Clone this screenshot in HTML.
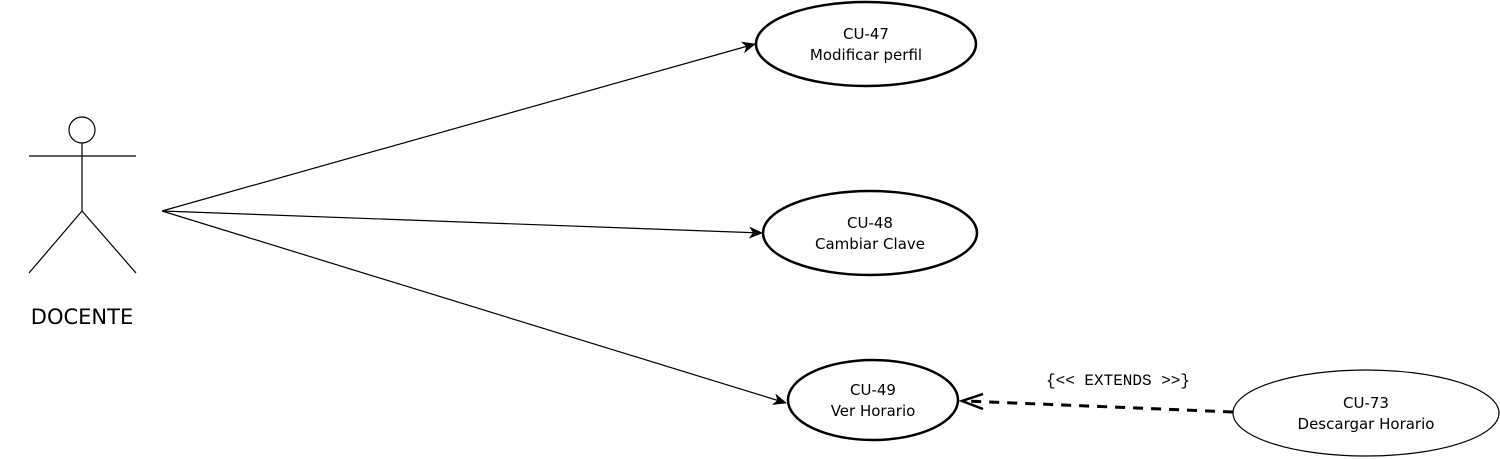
<!DOCTYPE html>
<html><head><style>html,body{margin:0;padding:0;background:#fff;}svg{display:block}</style></head>
<body>
<svg width="1500" height="459" viewBox="0 0 1500 459" xmlns="http://www.w3.org/2000/svg" font-family="'DejaVu Sans','Liberation Sans',sans-serif">
<defs>
<marker id="a" markerWidth="14" markerHeight="12" refX="13" refY="6" orient="auto" markerUnits="userSpaceOnUse">
<path d="M0,0 L14,6 L0,12 L4,6 Z" fill="#000"/>
</marker>
</defs>
<g stroke="#000" stroke-width="1.2" fill="none">
<circle cx="82" cy="130" r="13"/>
<line x1="29" y1="156" x2="136" y2="156"/>
<line x1="82" y1="143" x2="82" y2="211"/>
<line x1="82" y1="211" x2="29" y2="273"/>
<line x1="82" y1="211" x2="136" y2="273"/>
<line x1="162" y1="211" x2="755" y2="44" marker-end="url(#a)"/>
<line x1="162" y1="211" x2="762" y2="233" marker-end="url(#a)"/>
<line x1="162" y1="211" x2="786" y2="403" marker-end="url(#a)"/>
</g>
<text x="82" y="324" font-size="21" text-anchor="middle">DOCENTE</text>
<g stroke="#000" stroke-width="2.5" fill="#fff">
<ellipse cx="866" cy="44" rx="110" ry="42"/>
<ellipse cx="870" cy="233" rx="107" ry="42"/>
<ellipse cx="873" cy="400" rx="85" ry="40"/>
</g>
<ellipse cx="1366" cy="413" rx="133" ry="43" stroke="#000" stroke-width="1.2" fill="#fff"/>
<line x1="1233" y1="412" x2="966" y2="401" stroke="#000" stroke-width="3" stroke-dasharray="10,8"/>
<polyline points="983,394 962,401 983,409" stroke="#000" stroke-width="2.5" fill="none"/>
<text x="1118" y="385" font-size="16" text-anchor="middle" font-family="'Liberation Mono',monospace">{&lt;&lt; EXTENDS &gt;&gt;}</text>
<g font-size="15" text-anchor="middle">
<text x="866" y="39">CU-47</text><text x="866" y="60">Modificar perfil</text>
<text x="870" y="228">CU-48</text><text x="870" y="249">Cambiar Clave</text>
<text x="873" y="395">CU-49</text><text x="873" y="416">Ver Horario</text>
<text x="1366" y="408">CU-73</text><text x="1366" y="429">Descargar Horario</text>
</g>
</svg>
</body></html>
